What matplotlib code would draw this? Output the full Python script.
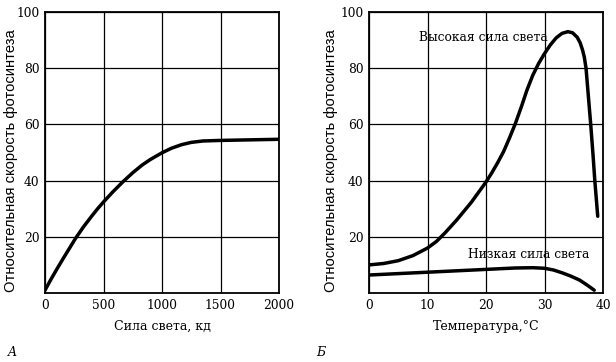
import matplotlib
matplotlib.use("Agg")
import matplotlib.pyplot as plt

# Panel A: light intensity vs relative photosynthesis rate
light_x = [0, 50, 100, 150, 200, 262, 330, 400, 450, 500, 580, 669, 750, 829, 900, 1000, 1080, 1168, 1250, 1350, 1500, 2000]
light_y = [1.0, 4.8, 8.4, 11.9, 15.3, 19.5, 23.6, 27.4, 30.0, 32.4, 36.0, 39.7, 42.8, 45.5, 47.5, 49.9, 51.5, 52.8, 53.6, 54.1, 54.3, 54.7]

# Panel B: temperature vs relative photosynthesis rate
high_t = [0, 2.5, 5, 7.5, 10, 11.5, 13, 15, 17.5, 20, 21, 22, 23, 24, 25, 26, 27, 28, 29, 30, 31, 32, 33, 34, 34.8, 35.6, 36.1, 36.5, 36.8, 37.1, 37.5, 37.9, 38.3, 38.6, 39.1]
high_y = [10.0, 10.5, 11.5, 13.3, 16.0, 18.3, 21.4, 26.0, 32.3, 39.5, 42.8, 46.4, 50.3, 55.1, 60.2, 66.0, 72.2, 77.5, 81.7, 85.2, 88.3, 90.8, 92.4, 93.0, 92.6, 91.0, 89.0, 86.5, 84.0, 80.0, 70.0, 60.0, 49.0, 40.0, 27.3]
low_t = [0, 5, 10, 15, 20, 25, 28, 30, 31.5, 33, 34.5, 36, 37.3, 38.5]
low_y = [6.4, 6.9, 7.4, 7.9, 8.4, 8.9, 9.0, 8.8, 8.2, 7.2, 6.0, 4.6, 2.8, 1.0]

y_ticks = [20, 40, 60, 80, 100]
a_ticks = [0, 500, 1000, 1500, 2000]
b_ticks = [0, 10, 20, 30, 40]

ylabel = "Относительная скорость фотосинтеза"
xlabel_a = "Сила света, кд"
xlabel_b = "Температура,°C"
label_high = "Высокая сила света"
label_low = "Низкая сила света"

serif = ["DejaVu Serif"]
sans = ["Liberation Sans", "DejaVu Sans"]

fig = plt.figure(figsize=(6.16, 3.62), dpi=100)
W, H = 616, 362

def make_ax(x0, x1, y0, y1):
    return fig.add_axes([x0 / W, (H - y1) / H, (x1 - x0) / W, (y1 - y0) / H])

axA = make_ax(45, 279, 12, 293)
axB = make_ax(369, 603, 12, 293)

def style(ax, xlim, xticks):
    ax.set_xlim(*xlim)
    ax.set_ylim(0, 100)
    ax.set_xticks(xticks)
    ax.set_yticks(y_ticks)
    ax.grid(True, color="black", linewidth=0.9)
    ax.set_axisbelow(True)
    ax.tick_params(length=0, pad=4, labelsize=8.8)
    for lab in ax.get_xticklabels() + ax.get_yticklabels():
        lab.set_family(serif)
    for s in ax.spines.values():
        s.set_linewidth(1.3)

style(axA, (0, 2000), a_ticks)
style(axB, (0, 40), b_ticks)

kw = dict(color="black", linewidth=2.5, solid_capstyle="round", solid_joinstyle="round")
axA.plot(light_x, light_y, **kw)
axB.plot(high_t, high_y, **kw)
axB.plot(low_t, low_y, **kw)

axA.set_xlabel(xlabel_a, family=serif, fontsize=9, labelpad=6)
axB.set_xlabel(xlabel_b, family=serif, fontsize=9, labelpad=6)

fig.text(10.7 / W, (H - 161) / H, ylabel, rotation=90, ha="center", va="center", family=sans, fontsize=10.6)
fig.text(331 / W, (H - 161) / H, ylabel, rotation=90, ha="center", va="center", family=sans, fontsize=10.6)

fig.text(483 / W, (H - 37.3) / H, label_high, ha="center", va="center", family=serif, fontsize=8.8)
fig.text(528.5 / W, (H - 255) / H, label_low, ha="center", va="center", family=serif, fontsize=8.8)

fig.text(8 / W, (H - 353) / H, "A", ha="left", va="center", family=serif, style="italic", fontsize=9)
fig.text(316 / W, (H - 353) / H, "Б", ha="left", va="center", family=serif, style="italic", fontsize=9)

fig.savefig("out.png", dpi=100)
